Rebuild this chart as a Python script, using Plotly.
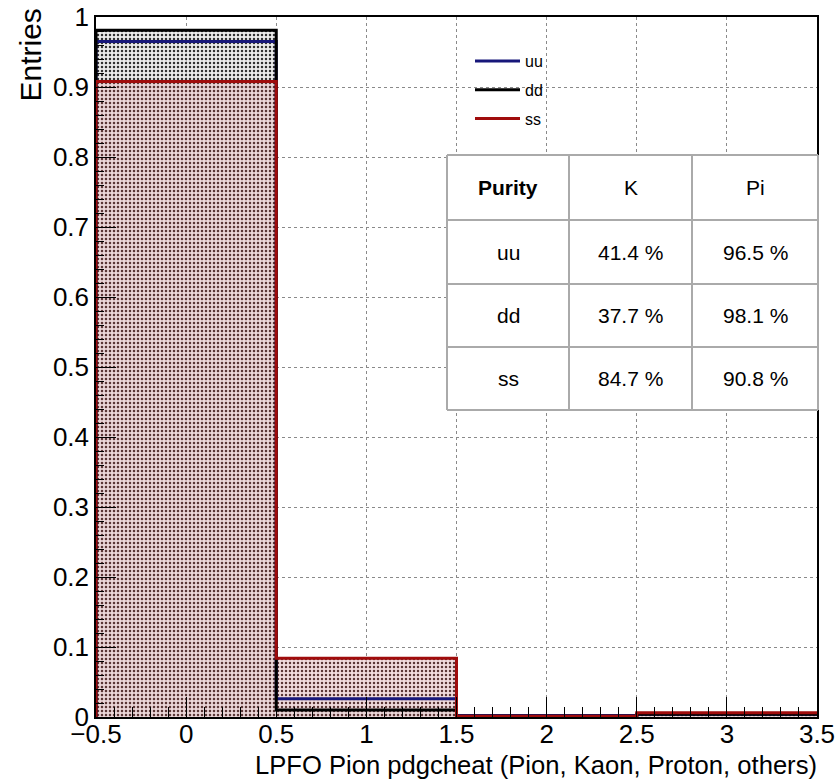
import plotly.graph_objects as go

# ---- data ----
bin_centers = [0, 1, 2, 3]
uu_vals = [0.965, 0.026, 0.002, 0.004]
dd_vals = [0.981, 0.010, 0.001, 0.004]
ss_vals = [0.908, 0.084, 0.001, 0.006]
series_names = ["uu", "dd", "ss"]
series_colors = ["#17177a", "#000000", "#a00c0c"]

table_header = ["<b>Purity</b>", "K", "Pi"]
table_rows = ["uu", "dd", "ss"]
purity_K = ["41.4 %", "37.7 %", "84.7 %"]
purity_Pi = ["96.5 %", "98.1 %", "90.8 %"]

x_title = "LPFO Pion pdgcheat (Pion, Kaon, Proton, others)"
y_title = "Entries"

FONT = "Liberation Sans, Arial, Helvetica, sans-serif"

# geometry (page body margin removed via post_script)
W, H = 839, 781
PX_L, PX_R, PX_T, PX_B = 96, 817, 17, 717   # target plot area in screen pixels
L, T, R, B = PX_L, PX_T, W - PX_R, H - PX_B
PW, PH = PX_R - PX_L, PX_B - PX_T


def px2x(px):
    return (px - PX_L) / PW


def px2y(py):
    return (PX_B - py) / PH


fig = go.Figure()

# filled histograms (patterns)
fig.add_trace(go.Bar(
    x=bin_centers, y=dd_vals, width=1.0, showlegend=False, hoverinfo="skip",
    marker=dict(color="rgba(215,215,215,0.75)", line=dict(width=0),
                pattern=dict(shape=".", fgcolor="#303030", bgcolor="rgba(228,228,228,0.7)",
                             size=4, solidity=0.3, fillmode="replace")),
))
fig.add_trace(go.Bar(
    x=bin_centers, y=ss_vals, width=1.0, showlegend=False, hoverinfo="skip",
    marker=dict(color="rgba(232,200,204,0.8)", line=dict(width=0),
                pattern=dict(shape=".", fgcolor="#5a3535", bgcolor="rgba(236,208,211,0.75)",
                             size=4, solidity=0.3, fillmode="replace")),
))


def step_xy(vals):
    xs = [bin_centers[0] - 0.5] + [c - 0.5 for c in bin_centers] + [bin_centers[-1] + 0.5]
    ys = [0] + list(vals) + [vals[-1]]
    return xs, ys


for name, vals, col in zip(series_names, [uu_vals, dd_vals, ss_vals], series_colors):
    xs, ys = step_xy(vals)
    fig.add_trace(go.Scatter(x=xs, y=ys, mode="lines", name=name, legendgroup=name,
                             line=dict(color=col, width=3, shape="hv"),
                             hoverinfo="skip"))

# ---- purity table drawn with shapes + annotations ----
col_edges = [447, 569, 692, 818]
row_edges = [155, 220, 284, 347, 410]
shapes = []
for cx in col_edges:
    shapes.append(dict(type="line", xref="paper", yref="paper",
                       x0=px2x(cx), x1=px2x(cx), y0=px2y(row_edges[0]), y1=px2y(row_edges[-1]),
                       line=dict(color="#aaaaaa", width=2)))
for ry in row_edges:
    shapes.append(dict(type="line", xref="paper", yref="paper",
                       x0=px2x(col_edges[0]), x1=px2x(col_edges[-1]), y0=px2y(ry), y1=px2y(ry),
                       line=dict(color="#aaaaaa", width=2)))
table_bg = dict(type="rect", xref="paper", yref="paper", layer="above",
                x0=px2x(col_edges[0]), x1=px2x(col_edges[-1]),
                y0=px2y(row_edges[-1]), y1=px2y(row_edges[0]),
                fillcolor="white", line=dict(width=0))
shapes = [table_bg] + shapes

annotations = []
table_cols = [[table_header[0]] + table_rows,
              [table_header[1]] + purity_K,
              [table_header[2]] + purity_Pi]
for ci, col in enumerate(table_cols):
    xc = px2x((col_edges[ci] + col_edges[ci + 1]) / 2)
    for ri, txt in enumerate(col):
        yc = px2y((row_edges[ri] + row_edges[ri + 1]) / 2)
        annotations.append(dict(text=txt, xref="paper", yref="paper", x=xc, y=yc,
                                xanchor="center", yanchor="middle", showarrow=False,
                                font=dict(family=FONT, size=21, color="black")))

annotations.append(dict(text=x_title, xref="paper", yref="paper", x=px2x(819), y=px2y(765),
                        xanchor="right", yanchor="middle", showarrow=False,
                        font=dict(family=FONT, size=25.6, color="black")))
annotations.append(dict(text=y_title, xref="paper", yref="paper", x=px2x(30), y=px2y(7),
                        xanchor="center", yanchor="top", textangle=-90, showarrow=False,
                        font=dict(family=FONT, size=30, color="black")))

axis_common = dict(
    showline=True, linecolor="black", linewidth=1.5, mirror=True,
    ticks="inside", tickcolor="black", tickwidth=1.2, ticklen=20,
    showgrid=True, gridcolor="#8a8a8a", griddash="dot", gridwidth=1,
    zeroline=False, layer="above traces", ticklabeloverflow="allow",
    tickfont=dict(family=FONT, size=26, color="black"),
)

fig.update_layout(
    width=W, height=H,
    margin=dict(l=L, r=R, t=T, b=B, autoexpand=False),
    paper_bgcolor="white", plot_bgcolor="white",
    barmode="overlay", bargap=0,
    font=dict(family=FONT, color="black"),
    xaxis=dict(range=[-0.5, 3.5], tick0=-0.5, dtick=0.5, ticklabelstandoff=-7,
               minor=dict(dtick=0.1, ticklen=10, ticks="inside", tickcolor="black", showgrid=False),
               **axis_common),
    yaxis=dict(range=[0, 1.0], tick0=0, dtick=0.1,
               minor=dict(dtick=0.02, ticklen=8, ticks="inside", tickcolor="black", showgrid=False),
               **axis_common),
    legend=dict(x=px2x(470), y=px2y(44), xanchor="left", yanchor="top",
                bgcolor="rgba(0,0,0,0)", borderwidth=0,
                font=dict(family=FONT, size=16, color="black"),
                tracegroupgap=5, itemwidth=45),
    shapes=shapes,
    annotations=annotations,
)

fig.write_html("out.html", config={"displayModeBar": False},
               post_script="document.body.style.margin='0px';")
